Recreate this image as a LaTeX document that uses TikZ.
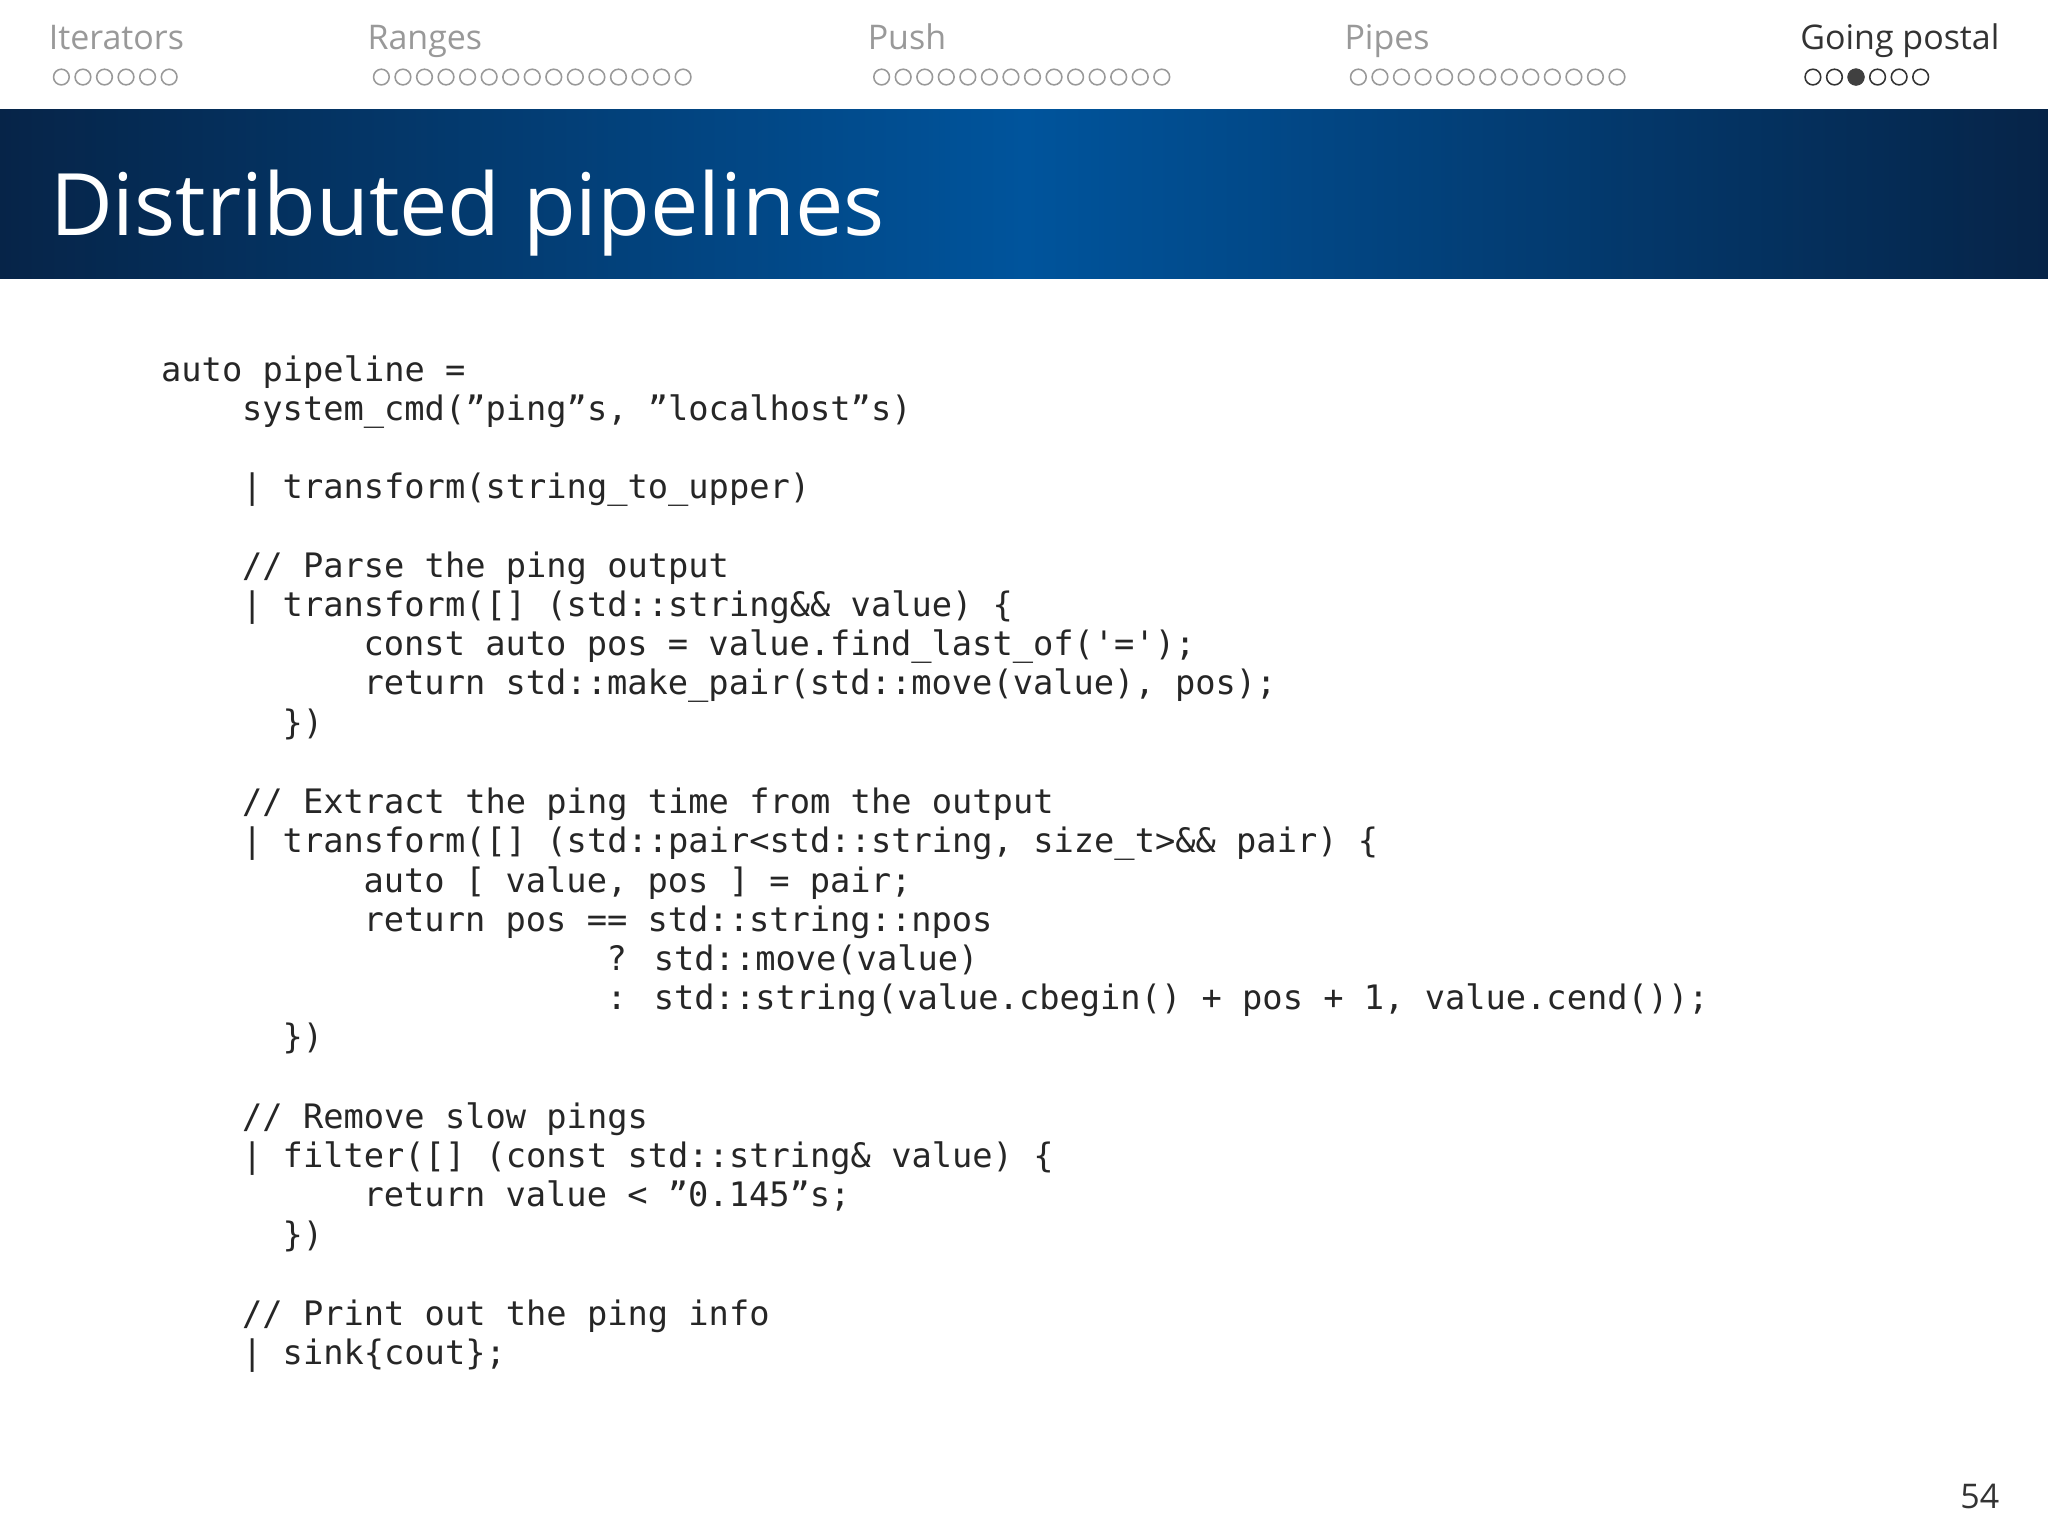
\documentclass[tikz,border=0pt]{standalone}
\usepackage{fontspec}
\setmainfont{Open Sans}
\newfontfamily\codefont{DejaVu Sans Mono}
\definecolor{banddark}{RGB}{6,36,72}
\definecolor{bandmid}{RGB}{0,84,156}
\begin{document}
\begin{tikzpicture}[x=0.5pt,y=-0.5pt,
  sec/.style={anchor=base west,inner sep=0,font=\fontsize{13}{15}\selectfont,text=gray!80},
  dot/.style={draw=gray!80,line width=0.6pt},
  code/.style={anchor=base west,inner sep=0,font=\codefont\fontsize{12.9}{15}\selectfont,text=black!85}]
\useasboundingbox (0,0) rectangle (1568,1176);
\fill[white] (0,0) rectangle (1568,1176);
% band
\shade[left color=banddark, right color=banddark, middle color=bandmid] (0,84) rectangle (1568,213);
\node[anchor=base west,inner sep=0,text=white,font=\fontsize{33}{40}\selectfont] (title) at (38,180) {Distributed pipelines};
% sections
\node[sec] (s1) at (37,38) {Iterators};
\node[sec] (s2) at (281,38) {Ranges};
\node[sec] (s3) at (664,38) {Push};
\node[sec] (s4) at (1029,38) {Pipes};
\node[sec,text=black!80] (s5) at (1378,38) {Going postal};
\foreach \n in {0,...,5} \draw[dot] (47+\n*16.5,59) circle (6);
\foreach \n in {0,...,14} \draw[dot] (292+\n*16.5,59) circle (6);
\foreach \n in {0,...,13} \draw[dot] (675+\n*16.5,59) circle (6);
\foreach \n in {0,...,12} \draw[dot] (1040+\n*16.5,59) circle (6);
\foreach \n in {0,...,5} \draw[draw=black!80,line width=0.6pt] (1388+\n*16.5,59) circle (6);
\fill[black!75] (1421,59) circle (6.5);
% code
\def\cw{15.5}
\newcommand\cl[4]{\node[code] (#1) at (123+#2*\cw,#3) {#4};}
\cl{c1}{0}{292}{auto pipeline =}
\cl{c2}{4}{322}{system\_cmd(”ping”s, ”localhost”s)}
\cl{c3}{4}{382}{| transform(string\_to\_upper)}
\cl{c4}{4}{442}{// Parse the ping output}
\cl{c5}{4}{472}{| transform([] (std::string\&\& value) \{}
\cl{c6}{10}{502}{const auto pos = value.find\_last\_of('=');}
\cl{c7}{10}{532}{return std::make\_pair(std::move(value), pos);}
\cl{c8}{6}{562}{\})}
\cl{c9}{4}{623}{// Extract the ping time from the output}
\cl{c10}{4}{653}{| transform([] (std::pair<std::string, size\_t>\&\& pair) \{}
\cl{c11}{10}{683}{auto [ value, pos ] = pair;}
\cl{c12}{10}{713}{return pos == std::string::npos}
\cl{c13}{22}{743}{? std::move(value)}
\cl{c14}{22}{773}{: std::string(value.cbegin() + pos + 1, value.cend());}
\cl{c15}{6}{803}{\})}
\cl{c16}{4}{864}{// Remove slow pings}
\cl{c17}{4}{894}{| filter([] (const std::string\& value) \{}
\cl{c18}{10}{924}{return value < ”0.145”s;}
\cl{c19}{6}{954}{\})}
\cl{c20}{4}{1015}{// Print out the ping info}
\cl{c21}{4}{1045}{| sink\{cout\};}
\node[anchor=base east,inner sep=0,font=\fontsize{13}{15}\selectfont,text=black!80] (pg) at (1531,1155) {54};
\end{tikzpicture}
\end{document}
